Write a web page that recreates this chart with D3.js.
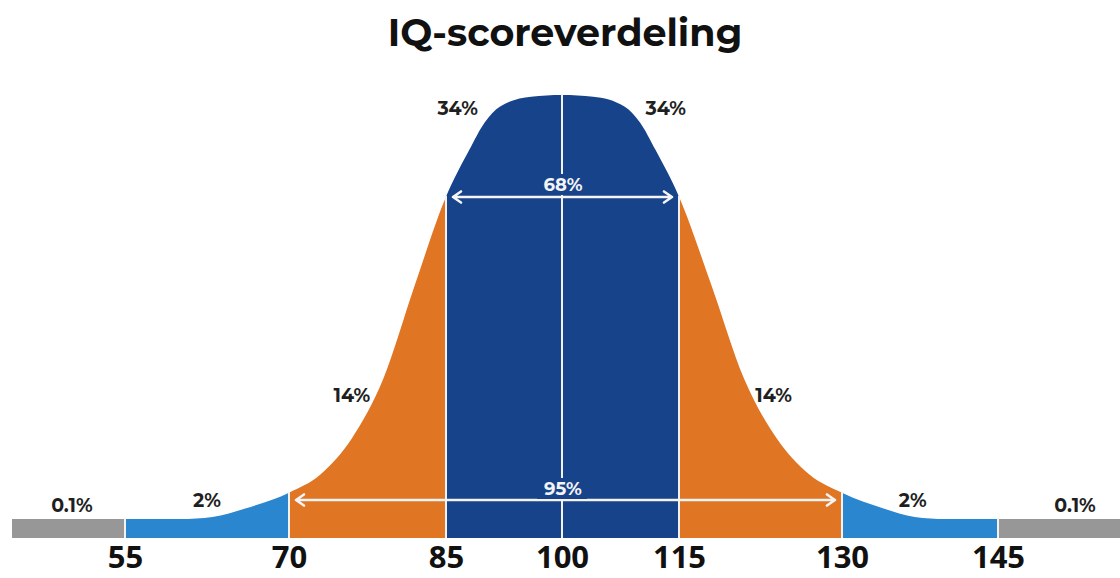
<!DOCTYPE html>
<html>
<head>
<meta charset="utf-8">
<script src="https://cdn.jsdelivr.net/npm/d3@7"></script>
<style>
  html, body { margin: 0; padding: 0; background: #fff; }
  svg { display: block; }
  text { font-family: "Montserrat", "Open Sans", "DejaVu Sans", sans-serif; }
</style>
</head>
<body>
<svg id="chart" width="1120" height="578"></svg>
<script>
// ---- data ----
var title = 'IQ-scoreverdeling';
var tickScores = [55, 70, 85, 100, 115, 130, 145];

// curve (height in % of the peak)
var curveScores  = [45, 55, 60, 63, 66, 70, 73, 76, 79, 82, 85, 88, 90, 92, 96, 100,
                    104, 108, 110, 112, 115, 118, 121, 124, 127, 130, 134, 137, 140, 145, 160];
var curveHeights = [0, 0, 0, 0.5, 2.5, 6.2, 10.5, 19, 33, 55, 76, 87, 93.5, 97.3, 99.6, 100,
                    99.6, 97.3, 93.5, 87, 76, 55, 33, 19, 10.5, 6.2, 2.5, 0.5, 0, 0, 0];

var bandFrom   = [45, 55, 70, 85, 115, 130, 145];
var bandTo     = [55, 70, 85, 115, 130, 145, 160];
var bandColors = ['#979797', '#2b86d0', '#e07524', '#16438a', '#e07524', '#2b86d0', '#979797'];

var pctLabels = ['0.1%', '2%', '14%', '34%', '34%', '14%', '2%', '0.1%'];
var pctScores = [50.3, 62.5, 76, 86.5, 113.3, 123.7, 136.8, 154.1];
var pctHeights = [1.6, 2.8, 27.6, 95.3, 95.3, 27.6, 2.8, 1.6];

//--------------------------------------------------

var svg = d3.select('#chart');

var x = d3.scaleLinear()
  .domain([45, 55, 70, 85, 100, 115, 130, 145, 160])
  .range([12, 125, 289, 446, 562, 679, 842, 998, 1125]);

var y = d3.scaleLinear()
  .domain([0, 100])
  .range([519, 95]);

var bottom = 538;

var points = curveScores.map(function(s, i) {
  return { s: s, h: curveHeights[i] };
});

var area = d3.area()
  .x(function(d) { return x(d.s); })
  .y0(bottom)
  .y1(function(d) { return y(d.h); })
  .curve(d3.curveMonotoneX);

var defs = svg.append('defs');

bandFrom.forEach(function(from, i) {
  defs.append('clipPath')
    .attr('id', 'clip' + i)
    .append('rect')
    .attr('x', x(from))
    .attr('y', 0)
    .attr('width', x(bandTo[i]) - x(from))
    .attr('height', 578);

  svg.append('path')
    .datum(points)
    .attr('clip-path', 'url(#clip' + i + ')')
    .attr('fill', bandColors[i])
    .attr('d', area);
});

// separators
function heightAt(s) {
  var i = curveScores.indexOf(s);
  return i >= 0 ? curveHeights[i] : 0;
}

svg.selectAll('.sep')
  .data(tickScores)
  .enter().append('line')
  .attr('class', 'sep')
  .attr('x1', function(d) { return x(d); })
  .attr('x2', function(d) { return x(d); })
  .attr('y1', function(d) { return y(heightAt(d)) - 1; })
  .attr('y2', bottom)
  .attr('stroke', '#f2f2f2')
  .attr('stroke-width', 2);

// arrows
function arrow(s0, s1, yy) {
  var x0 = x(s0) + 7, x1 = x(s1) - 7, a = 8;
  var g = svg.append('g');
  g.append('path')
    .attr('d', 'M' + x0 + ',' + yy + 'H' + x1 +
      'M' + (x0 + a) + ',' + (yy - a * 0.7) + 'L' + x0 + ',' + yy + 'L' + (x0 + a) + ',' + (yy + a * 0.7) +
      'M' + (x1 - a) + ',' + (yy - a * 0.7) + 'L' + x1 + ',' + yy + 'L' + (x1 - a) + ',' + (yy + a * 0.7))
    .attr('fill', 'none')
    .attr('stroke', '#f4f4f4')
    .attr('stroke-width', 2.5)
    .attr('stroke-linecap', 'round')
    .attr('stroke-linejoin', 'round');
}

function innerLabel(text, s, yy) {
  svg.append('rect')
    .attr('x', x(s) - 25)
    .attr('y', yy - 17)
    .attr('width', 50)
    .attr('height', 21)
    .attr('fill', '#16438a');
  svg.append('text')
    .attr('x', x(s) + 1)
    .attr('y', yy)
    .attr('text-anchor', 'middle')
    .attr('fill', '#f4f4f4')
    .style('font-size', '18px')
    .style('font-weight', 700)
    .text(text);
}

arrow(85, 115, 197);
innerLabel('68%', 100, 191);
arrow(70, 130, 500);
innerLabel('95%', 100, 495);

// percentage labels
svg.selectAll('.pct')
  .data(pctLabels)
  .enter().append('text')
  .attr('class', 'pct')
  .attr('x', function(d, i) { return x(pctScores[i]); })
  .attr('y', function(d, i) { return y(pctHeights[i]); })
  .attr('text-anchor', 'middle')
  .attr('fill', '#1f1f1f')
  .style('font-size', '19px')
  .style('font-weight', 700)
  .text(function(d) { return d; });

// axis labels
var axis = d3.axisBottom(x).tickValues(tickScores).tickSize(0).tickPadding(0);
var ax = svg.append('g')
  .attr('transform', 'translate(0,' + 568 + ')')
  .call(axis);
ax.select('.domain').remove();
ax.selectAll('text')
  .attr('dy', 0)
  .attr('fill', '#111')
  .style('font-size', '31px')
  .style('font-weight', 700)
  .style('font-family', '"Open Sans", "DejaVu Sans", sans-serif');

// title
svg.append('text')
  .attr('x', 565)
  .attr('y', 46)
  .attr('text-anchor', 'middle')
  .attr('fill', '#111')
  .style('font-size', '38px')
  .style('font-weight', 700)
  .text(title);
</script>
</body>
</html>
